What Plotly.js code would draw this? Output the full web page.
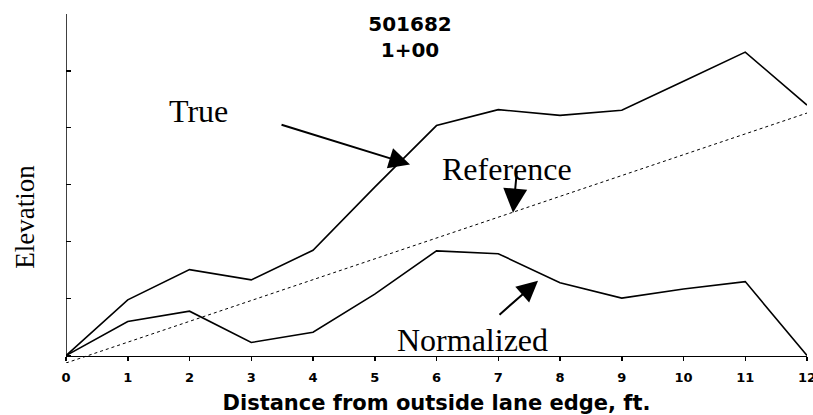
<!DOCTYPE html>
<html>
<head>
<meta charset="utf-8">
<script src="https://cdn.plot.ly/plotly-3.0.1.min.js"></script>
<style>html,body{margin:0;padding:0;background:#fff;}#chart{width:813px;height:415px;}</style>
</head>
<body>
<div id="chart"></div>
<script>
// Data
const distance = [0, 1, 2, 3, 4, 5, 6, 7, 8, 9, 10, 11, 12];
const trueElevation = [0, 0.98, 1.51, 1.33, 1.85, 2.96, 4.04, 4.32, 4.22, 4.31, 4.82, 5.33, 4.40];
const normalizedElevation = [0, 0.60, 0.78, 0.23, 0.41, 1.08, 1.84, 1.79, 1.28, 1.01, 1.17, 1.30, 0];
const referenceDistance = [0, 12];
const referenceElevation = [-0.13, 4.26];
const xTicks = [0, 1, 2, 3, 4, 5, 6, 7, 8, 9, 10, 11, 12];
const yTicks = [0, 1, 2, 3, 4, 5, 6];

const traces = [
  {x: distance, y: trueElevation, type: 'scatter', mode: 'lines', name: 'True',
   line: {color: '#000', width: 1.6}},
  {x: distance, y: normalizedElevation, type: 'scatter', mode: 'lines', name: 'Normalized',
   line: {color: '#000', width: 1.6}},
  {x: referenceDistance, y: referenceElevation, type: 'scatter', mode: 'lines', name: 'Reference',
   line: {color: '#000', width: 1, dash: 'dot'}}
];

const serif = 'Liberation Serif, Times New Roman, serif';
const arrowStyle = {text: '', showarrow: true, arrowhead: 2, arrowsize: 2.1, arrowwidth: 2,
  arrowcolor: '#000', axref: 'x', ayref: 'y', xref: 'x', yref: 'y', standoff: 0};

const layout = {
  width: 813, height: 415,
  margin: {l: 66, r: 6, t: 14, b: 52, pad: 0},
  paper_bgcolor: '#fff', plot_bgcolor: '#fff',
  showlegend: false,
  title: {text: '<b>501682</b><br><b>1+00</b>', font: {family: 'DejaVu Sans', size: 20, color: '#000'},
    x: 410/813, xref: 'container', xanchor: 'center', y: 1 - 31/415, yref: 'container', yanchor: 'top'},
  xaxis: {
    range: [0, 12], tickvals: xTicks, ticktext: xTicks.map(String),
    showgrid: false, zeroline: false, showline: true, linecolor: '#000', linewidth: 1.5,
    ticks: 'outside', ticklen: 4, tickwidth: 1.5, tickcolor: '#000',
    ticklabeloverflow: 'allow', ticklabelstandoff: 5,
    tickfont: {family: 'DejaVu Sans', size: 13, color: '#000', weight: 'bold'},
    anchor: 'free', position: 0.13/6.13,
    title: {text: '<b>Distance from outside lane edge, ft.</b>', font: {family: 'DejaVu Sans', size: 21, color: '#000'}, standoff: 14}
  },
  yaxis: {
    range: [-0.13, 6], tickvals: yTicks, showticklabels: false,
    showgrid: false, zeroline: false, showline: false,
    ticks: 'inside', ticklen: 5, tickwidth: 1.2, tickcolor: '#000'
  },
  shapes: [
    {type: 'line', xref: 'x', yref: 'y', x0: 0, x1: 0, y0: 0, y1: 6, line: {color: '#000', width: 1.5}}
  ],
  annotations: [
    {text: 'Elevation', xref: 'paper', yref: 'y', x: (25-66)/741, y: 2.44, textangle: -90,
     showarrow: false, xanchor: 'center', yanchor: 'middle', font: {family: serif, size: 27, color: '#000'}},
    {text: 'True', xref: 'x', yref: 'y', x: 2.138, y: 4.29, showarrow: false, xanchor: 'center', yanchor: 'middle',
     font: {family: serif, size: 32, color: '#000'}},
    {text: 'Reference', xref: 'x', yref: 'y', x: 7.142, y: 3.28, showarrow: false, xanchor: 'center', yanchor: 'middle',
     font: {family: serif, size: 32, color: '#000'}},
    {text: 'Normalized', xref: 'x', yref: 'y', x: 6.575, y: 0.27, showarrow: false, xanchor: 'center', yanchor: 'middle',
     font: {family: serif, size: 32, color: '#000'}},
    Object.assign({x: 5.571, y: 3.357, ax: 3.466, ay: 4.062}, arrowStyle),
    Object.assign({x: 7.239, y: 2.511, ax: 7.304, ay: 3.269}, arrowStyle, {arrowsize: 2.4}),
    Object.assign({x: 7.644, y: 1.313, ax: 6.996, ay: 0.696}, arrowStyle)
  ]
};

Plotly.newPlot('chart', traces, layout, {displayModeBar: false, staticPlot: true});
</script>
</body>
</html>
